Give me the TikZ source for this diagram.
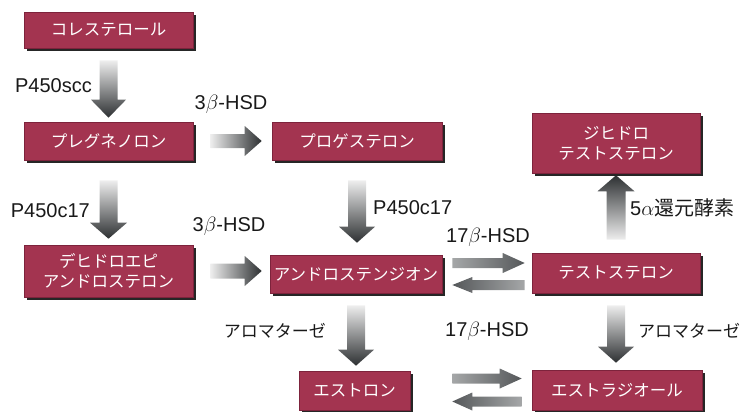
\documentclass[tikz,border=0pt]{standalone}
\usepackage{fontspec}
\setmainfont{Liberation Sans}
\newfontfamily\jpfont{Noto Sans CJK JP}
\usetikzlibrary{calc,shadows}
\definecolor{boxred}{RGB}{163,52,80}
\definecolor{boxedge}{RGB}{125,35,60}
\definecolor{arrlight}{RGB}{238,238,238}
\definecolor{arrdark}{RGB}{45,48,50}
\definecolor{dbllight}{RGB}{165,167,168}
\definecolor{dbldark}{RGB}{85,88,90}
\definecolor{labelcol}{RGB}{25,25,25}
% #1 shading, #2 tail, #3 tip, #4 half shaft, #5 half head, #6 head length
\newcommand\fatdown[6]{\shade[#1] let \p1=(#2),\p2=(#3) in
  (\x1-#4,\y1) -- (\x1+#4,\y1) -- (\x1+#4,\y2+#6) -- (\x1+#5,\y2+#6) -- (\x1,\y2)
  -- (\x1-#5,\y2+#6) -- (\x1-#4,\y2+#6) -- cycle;}
\newcommand\fatup[6]{\shade[#1] let \p1=(#2),\p2=(#3) in
  (\x1-#4,\y1) -- (\x1+#4,\y1) -- (\x1+#4,\y2-#6) -- (\x1+#5,\y2-#6) -- (\x1,\y2)
  -- (\x1-#5,\y2-#6) -- (\x1-#4,\y2-#6) -- cycle;}
\newcommand\fatright[6]{\shade[#1] let \p1=(#2),\p2=(#3) in
  (\x1,\y1+#4) -- (\x2-#6,\y1+#4) -- (\x2-#6,\y1+#5) -- (\x2,\y1) -- (\x2-#6,\y1-#5)
  -- (\x2-#6,\y1-#4) -- (\x1,\y1-#4) -- cycle;}
\newcommand\fatleft[6]{\shade[#1] let \p1=(#2),\p2=(#3) in
  (\x1,\y1+#4) -- (\x2+#6,\y1+#4) -- (\x2+#6,\y1+#5) -- (\x2,\y1) -- (\x2+#6,\y1-#5)
  -- (\x2+#6,\y1-#4) -- (\x1,\y1-#4) -- cycle;}
\tikzset{
  hormone/.style={fill=boxred, draw=boxedge, line width=0.6pt, inner sep=0pt,
    text=white, align=center, font=\jpfont\fontsize{16.5}{20}\selectfont,
    drop shadow={shadow xshift=3pt, shadow yshift=-3pt, fill=black!85, opacity=1}},
  enzyme/.style={text=labelcol, inner sep=0pt, font=\fontsize{20}{24}\selectfont},
  jenzyme/.style={text=labelcol, inner sep=0pt, font=\jpfont\fontsize{17}{21}\selectfont},
  bigdown/.style={top color=arrlight, bottom color=arrdark},
  bigup/.style={top color=arrdark, bottom color=arrlight},
  bigright/.style={left color=arrlight, right color=arrdark},
  dblright/.style={left color=dbllight, right color=dbldark},
  dblleft/.style={left color=dbldark, right color=dbllight}
}
\begin{document}
\begin{tikzpicture}[x=1pt,y=-1pt]
\useasboundingbox (0,0) rectangle (744,412);
% hormone boxes
\node[hormone, minimum width=169pt, minimum height=36pt] (chol) at (108.5,30) {コレステロール};
\node[hormone, minimum width=169pt, minimum height=38pt] (preg) at (108.5,141) {プレグネノロン};
\node[hormone, minimum width=170pt, minimum height=38pt] (prog) at (357,141) {プロゲステロン};
\node[hormone, minimum width=169pt, minimum height=52pt] (dhea) at (108.5,271) {デヒドロエピ\\アンドロステロン};
\node[hormone, minimum width=172pt, minimum height=38pt] (andro) at (356,274) {アンドロステンジオン};
\node[hormone, minimum width=168pt, minimum height=60pt] (dht) at (616,143) {ジヒドロ\\テストステロン};
\node[hormone, minimum width=168pt, minimum height=40pt] (testo) at (616,273) {テストステロン};
\node[hormone, minimum width=111pt, minimum height=39pt] (estrone) at (354.5,390.5) {エストロン};
\node[hormone, minimum width=170pt, minimum height=40pt] (estradiol) at (617,390) {エストラジオール};
% arrow end points
\coordinate (a1t) at ($(chol.south)+(0,12)$);   \coordinate (a1h) at ($(preg.north)+(0,-4)$);
\coordinate (a2t) at ($(preg.east)+(17,0)$);    \coordinate (a2h) at ($(preg.east -| prog.west)+(-10,0)$);
\coordinate (a3t) at ($(preg.south)+(0,20)$);   \coordinate (a3h) at ($(dhea.north)+(0,-6)$);
\coordinate (a4t) at ($(dhea.east)+(17,0)$);    \coordinate (a4h) at ($(dhea.east -| andro.west)+(-8,0)$);
\coordinate (a5t) at ($(prog.south)+(0,20)$);   \coordinate (a5h) at ($(andro.north)+(0,-12)$);
\coordinate (a6t) at ($(testo.north)+(0,-13)$); \coordinate (a6h) at ($(dht.south)+(0,2)$);
\coordinate (a7t) at ($(andro.south)+(0,12)$);  \coordinate (a7h) at ($(estrone.north)+(0,-5)$);
\coordinate (a8t) at ($(testo.south)+(0,12)$);  \coordinate (a8h) at ($(estradiol.north)+(0,-7)$);
\coordinate (a9t) at ($(andro.east)+(10,-11)$); \coordinate (a9h) at ($(andro.east -| testo.west)+(-7,-11)$);
\coordinate (a10t) at ($(andro.east -| testo.west)+(-7,11)$); \coordinate (a10h) at ($(andro.east)+(10,11)$);
\coordinate (a11t) at ($(estrone.east)+(42,-12)$); \coordinate (a11h) at ($(estrone.east -| estradiol.west)+(-10,-12)$);
\coordinate (a12t) at ($(estrone.east -| estradiol.west)+(-10,11)$); \coordinate (a12h) at ($(estrone.east)+(42,11)$);
% big arrows
\fatdown{bigdown}{a1t}{a1h}{9pt}{17.5pt}{18pt}
\fatright{bigright}{a2t}{a2h}{7pt}{15pt}{17pt}
\fatdown{bigdown}{a3t}{a3h}{9pt}{18.5pt}{16pt}
\fatright{bigright}{a4t}{a4h}{7.5pt}{15pt}{17pt}
\fatdown{bigdown}{a5t}{a5h}{9pt}{18pt}{16pt}
\fatup{bigup}{a6t}{a6h}{9.5pt}{18.5pt}{16pt}
\fatdown{bigdown}{a7t}{a7h}{9pt}{18pt}{16pt}
\fatdown{bigdown}{a8t}{a8h}{9pt}{18pt}{16pt}
% reversible arrows
\fatright{dblright}{a9t}{a9h}{5pt}{10pt}{22pt}
\fatleft{dblleft}{a10t}{a10h}{5pt}{8pt}{20pt}
\fatright{dblright}{a11t}{a11h}{5pt}{10pt}{22pt}
\fatleft{dblleft}{a12t}{a12h}{5pt}{9pt}{20pt}
% enzyme labels
\node[enzyme, anchor=east] (l1) at (92,86) {P450scc};
\node[enzyme] (l2) at (231,104) {3$\beta$-HSD};
\node[enzyme, anchor=east] (l3) at (90,211) {P450c17};
\node[enzyme] (l4) at (229,226) {3$\beta$-HSD};
\node[enzyme, anchor=west] (l5) at (373,208) {P450c17};
\node[enzyme] (l6) at (488,237) {17$\beta$-HSD};
\node[enzyme, anchor=west] (l7) at (630,208) {5$\alpha${\jpfont\fontsize{20}{24}\selectfont 還元酵素}};
\node[jenzyme, anchor=east] (l8) at (326,331) {アロマターゼ};
\node[enzyme] (l9) at (487,331) {17$\beta$-HSD};
\node[jenzyme, anchor=west] (l10) at (638,331) {アロマターゼ};
\end{tikzpicture}
\end{document}
